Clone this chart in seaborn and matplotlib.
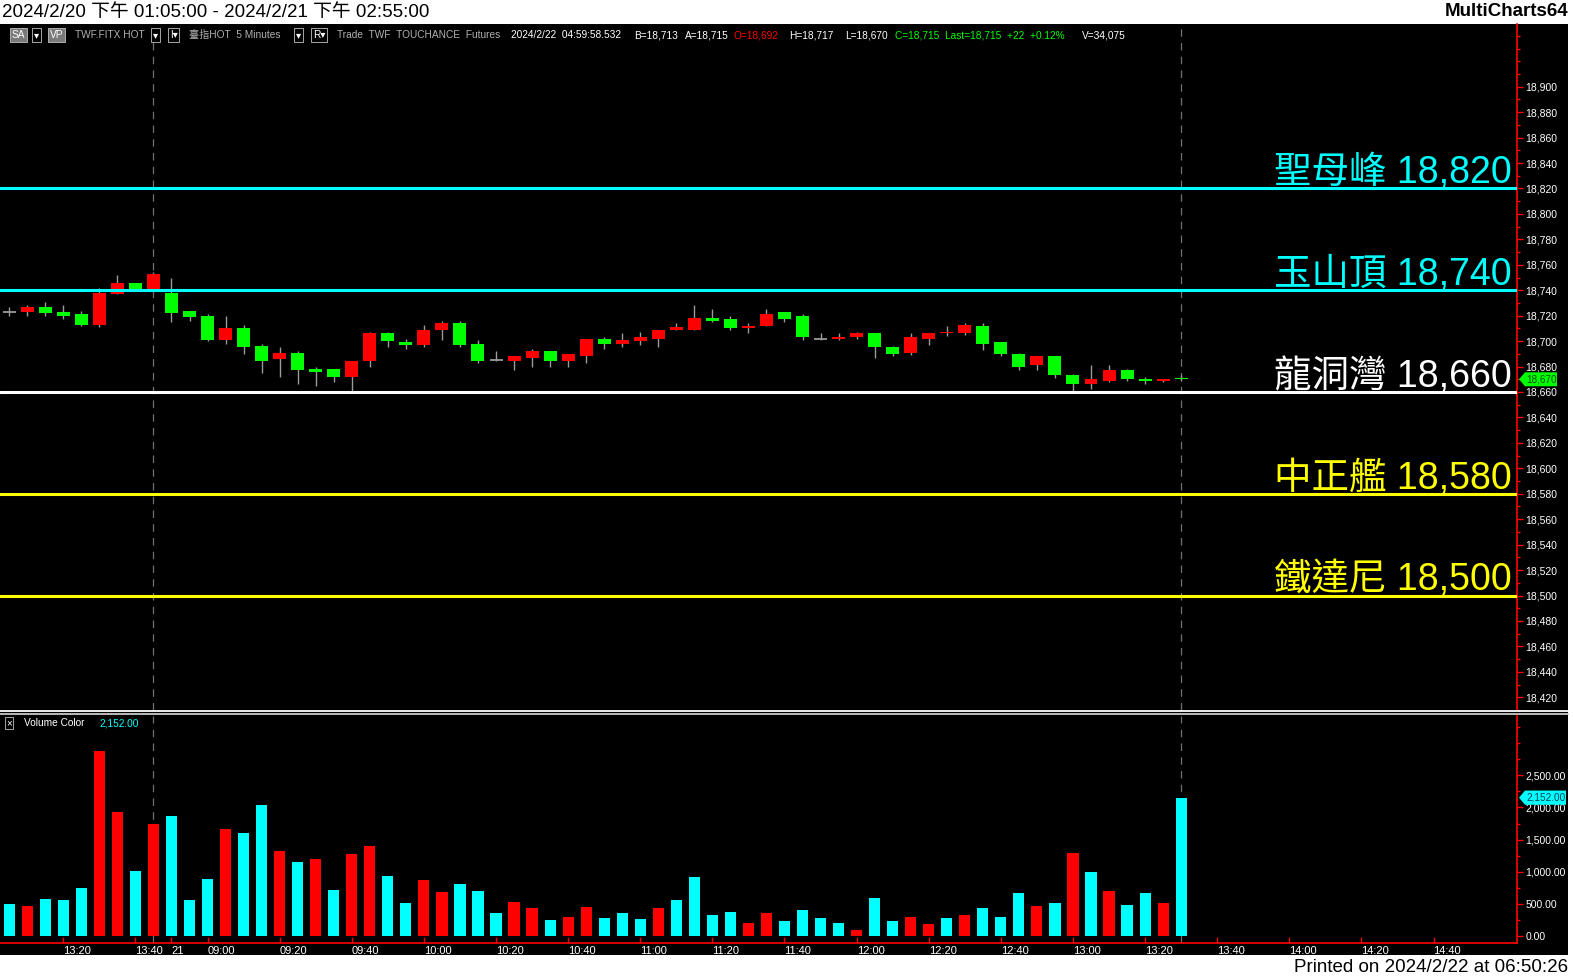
import matplotlib
matplotlib.use("Agg")
import matplotlib.pyplot as plt
from matplotlib.patches import Rectangle, Polygon
from matplotlib.lines import Line2D
from matplotlib.transforms import blended_transform_factory
import numpy as np
import pandas as pd
import seaborn as sns

# ── Data (5-minute bars, TX futures, 2024/2/20 13:05 → 2024/2/21 13:30) ──────
OPEN = [18723, 18723, 18727, 18723, 18721, 18713, 18737, 18746, 18741, 18738,
        18724, 18720, 18701, 18710, 18696, 18686, 18691, 18678, 18678, 18672,
        18684, 18706, 18699, 18697, 18709, 18714, 18698, 18685, 18684, 18687,
        18692, 18684, 18688, 18702, 18698, 18700, 18702, 18709, 18709, 18718,
        18717, 18710, 18712, 18723, 18720, 18702, 18702, 18703, 18706, 18695,
        18691, 18702, 18706, 18706, 18712, 18699, 18690, 18681, 18688, 18673,
        18666, 18669, 18677, 18670, 18669, 18671]
HIGH = [18727, 18728, 18731, 18728, 18724, 18742, 18752, 18746, 18754, 18750,
        18724, 18721, 18720, 18713, 18698, 18695, 18692, 18680, 18678, 18684,
        18707, 18707, 18702, 18713, 18716, 18716, 18701, 18692, 18688, 18694,
        18692, 18690, 18702, 18703, 18706, 18707, 18709, 18714, 18728, 18725,
        18720, 18714, 18725, 18723, 18721, 18706, 18706, 18707, 18706, 18696,
        18706, 18706, 18712, 18714, 18714, 18699, 18691, 18688, 18688, 18674,
        18681, 18681, 18678, 18672, 18670, 18673]
LOW = [18720, 18720, 18720, 18717, 18712, 18711, 18737, 18740, 18740, 18715,
       18716, 18700, 18698, 18690, 18675, 18672, 18666, 18665, 18668, 18661,
       18680, 18695, 18694, 18695, 18701, 18695, 18683, 18684, 18677, 18680,
       18680, 18680, 18683, 18694, 18695, 18697, 18695, 18709, 18709, 18715,
       18709, 18706, 18712, 18715, 18701, 18701, 18701, 18702, 18687, 18688,
       18689, 18697, 18704, 18705, 18693, 18688, 18677, 18677, 18671, 18660,
       18662, 18668, 18669, 18666, 18668, 18669]
CLOSE = [18723, 18727, 18722, 18720, 18713, 18738, 18746, 18740, 18753, 18722,
         18719, 18701, 18710, 18695, 18684, 18691, 18677, 18676, 18672, 18684,
         18706, 18700, 18697, 18709, 18714, 18697, 18684, 18685, 18688, 18692,
         18684, 18690, 18702, 18698, 18701, 18703, 18709, 18711, 18718, 18716,
         18710, 18712, 18721, 18717, 18703, 18702, 18703, 18706, 18695, 18690,
         18703, 18706, 18707, 18713, 18698, 18690, 18680, 18688, 18673, 18666,
         18670, 18677, 18670, 18669, 18670, 18670]
VOLUME = [500, 466, 575, 560, 746, 2875, 1927, 1010, 1740, 1865,
          560, 886, 1663, 1600, 2036, 1321, 1150, 1197, 715, 1274,
          1399, 932, 513, 870, 684, 808, 699, 357, 528, 435,
          249, 295, 451, 280, 357, 264, 435, 560, 917, 326,
          373, 202, 357, 233, 404, 280, 202, 93, 590, 233,
          295, 186, 280, 326, 435, 295, 668, 466, 513, 1290,
          995, 699, 482, 668, 513, 2152]
VOL_DIR = ["dn", "up", "dn", "dn", "dn", "up", "up", "dn", "up", "dn",
           "dn", "dn", "up", "dn", "dn", "up", "dn", "up", "dn", "up",
           "up", "dn", "dn", "up", "up", "dn", "dn", "dn", "up", "up",
           "dn", "up", "up", "dn", "dn", "dn", "up", "dn", "dn", "dn",
           "dn", "up", "up", "dn", "dn", "dn", "dn", "up", "dn", "dn",
           "up", "up", "dn", "up", "dn", "dn", "dn", "up", "dn", "up",
           "dn", "up", "dn", "dn", "up", "dn"]

TICK_POS = [3, 7, 9, 11, 15, 19, 23, 27, 31, 35, 39, 43, 47, 51, 55, 59, 63,
            67, 71, 75, 79]
TICK_LABELS = ["13:20", "13:40", "21", "09:00", "09:20", "09:40", "10:00",
               "10:20", "10:40", "11:00", "11:20", "11:40", "12:00", "12:20",
               "12:40", "13:00", "13:20", "13:40", "14:00", "14:20", "14:40"]

LEVEL_PRICES = [18820, 18740, 18660, 18580, 18500]
LEVEL_NAMES = ["聖母峰", "玉山頂", "龍洞灣", "中正艦", "鐵達尼"]
LEVEL_COLORS = ["#00FFFF", "#00FFFF", "#FFFFFF", "#FFFF00", "#FFFF00"]

SESSION_BREAKS = [8, 65]
LAST_PRICE = 18670
LAST_VOLUME = 2152

# ── Style ─────────────────────────────────────────────────────────────────────
W, H = 1573, 980
sns.set_style("dark", {"axes.facecolor": "black"})
plt.rcParams["font.family"] = ["Liberation Sans", "Noto Sans CJK TC", "DejaVu Sans"]

RED, GREEN, CYAN = "#FF0000", "#00FF00", "#00FFFF"
WICK = "#9A9A9A"


def fx(x):
    return x / W


def fy(y):
    return 1 - y / H


fig = plt.figure(figsize=(W / 100, H / 100), dpi=100, facecolor="white")
fig.patches.append(Rectangle((0, fy(955)), fx(1568), fy(24) - fy(955),
                             transform=fig.transFigure, facecolor="black",
                             edgecolor="none", zorder=-10))

ax = fig.add_axes([0, fy(710), fx(1517), fy(24) - fy(710)])
axv = fig.add_axes([0, fy(943), fx(1517), fy(716) - fy(943)], sharex=ax)

for a in (ax, axv):
    a.set_facecolor("black")
    for s in ("top", "left"):
        a.spines[s].set_visible(False)
    a.spines["right"].set_color(RED)
    a.spines["right"].set_linewidth(1.2)
    a.yaxis.tick_right()
    a.grid(False)
ax.spines["bottom"].set_visible(False)
axv.spines["bottom"].set_color(RED)
axv.spines["bottom"].set_linewidth(1.2)

# ── Candles ───────────────────────────────────────────────────────────────────
idx = np.arange(len(OPEN))
o, h, l, c = map(np.array, (OPEN, HIGH, LOW, CLOSE))
ax.vlines(idx, l, h, color=WICK, lw=1.0, zorder=2)
body_col = np.where(c > o, RED, GREEN)
real = c != o
ax.bar(idx[real], np.abs(c - o)[real], bottom=np.minimum(o, c)[real],
       width=0.72, color=body_col[real], linewidth=0, zorder=3)
ax.hlines(o[~real], idx[~real] - 0.36, idx[~real] + 0.36, color=WICK, lw=1.3, zorder=3)

# key levels
blend = blended_transform_factory(ax.transAxes, ax.transData)
for lvl, name, col in zip(LEVEL_PRICES, LEVEL_NAMES, LEVEL_COLORS):
    ax.axhline(lvl, color=col, lw=2.2, zorder=4)
    ax.text(1 - 5 / 1517, lvl + 4, f"{name} {lvl:,}", transform=blend,
            ha="right", va="baseline", fontsize=27, color=col, zorder=5)

# ── Volume (seaborn) ──────────────────────────────────────────────────────────
vol_df = pd.DataFrame({"bar": idx, "volume": VOLUME, "dir": VOL_DIR})
sns.barplot(data=vol_df, x="bar", y="volume", hue="dir",
            palette={"up": RED, "dn": CYAN}, native_scale=True, dodge=False,
            width=0.62, saturation=1, errorbar=None, legend=False, ax=axv,
            linewidth=0, zorder=3)
axv.set_xlabel("")
axv.set_ylabel("")

for b in SESSION_BREAKS:
    for a in (ax, axv):
        a.axvline(b, color="#707070", lw=0.9, ls=(0, (6, 5)), zorder=0.5)

# ── Axes limits & ticks ───────────────────────────────────────────────────────
ax.set_xlim(-9.2 / 18.03, (1517 - 9.2) / 18.03)
ax.set_ylim(18410, 18949.3)
axv.set_ylim(-105, 3420)

ax.set_yticks(np.arange(18420, 18901, 20))
ax.set_yticklabels([f"{v:,}" for v in range(18420, 18901, 20)])
ax.set_yticks(np.arange(18410, 18941, 10), minor=True)
axv.set_yticks(np.arange(0, 2501, 500))
axv.set_yticklabels([f"{v:,.2f}" for v in range(0, 2501, 500)])
axv.set_yticks(np.arange(0, 3251, 250), minor=True)

for a in (ax, axv):
    a.tick_params(axis="y", which="major", right=True, left=False, length=4,
                  width=1, color=RED, labelcolor="white", labelsize=7.5, pad=2)
    a.tick_params(axis="y", which="minor", right=True, left=False, length=2.5,
                  width=1, color=RED)
ax.tick_params(axis="x", which="both", bottom=False, labelbottom=False)

axv.set_xticks(TICK_POS)
axv.set_xticklabels(TICK_LABELS)
axv.tick_params(axis="x", which="major", bottom=True, direction="in", length=4,
                width=1, color=RED, labelcolor="white", labelsize=8, pad=2.5)
for t in axv.get_xticklabels():
    t.set_horizontalalignment("left")
axv.tick_params(axis="x", which="minor", bottom=False)

# ── Last value tags on the axes ───────────────────────────────────────────────
def tag(a, value, half, width, color, text, text_color):
    tr = blended_transform_factory(a.transAxes, a.transData)
    px = 1 / 1517
    verts = [(1 + 2 * px, value), (1 + 8 * px, value + half),
             (1 + width * px, value + half), (1 + width * px, value - half),
             (1 + 8 * px, value - half)]
    a.add_patch(Polygon(verts, closed=True, transform=tr, facecolor=color,
                        edgecolor="none", clip_on=False, zorder=6))
    a.text(1 + 9 * px, value, text, transform=tr, ha="left", va="center",
           fontsize=7.2, color=text_color, clip_on=False, zorder=7)


tag(ax, LAST_PRICE, 5.5, 40, GREEN, f"{LAST_PRICE:,}", "#005000")
tag(axv, LAST_VOLUME, 110, 49, CYAN, f"{LAST_VOLUME:,.2f}", "#004050")

# ── Panel separator ───────────────────────────────────────────────────────────
for yy, col in ((711, "#FFFFFF"), (714, "#C8C8C8")):
    fig.add_artist(Line2D([0, fx(1568)], [fy(yy), fy(yy)], transform=fig.transFigure,
                          color=col, lw=1.3))

# ── Header / footer texts ─────────────────────────────────────────────────────
fig.text(fx(2), fy(12), "2024/2/20 下午 01:05:00 - 2024/2/21 下午 02:55:00",
         fontsize=13.5, va="center", ha="left", color="black")
fig.text(fx(1568), fy(12), "MultiCharts64", fontsize=13.5, fontweight="bold",
         va="center", ha="right", color="black")
fig.text(fx(1568), fy(967), "Printed on 2024/2/22 at 06:50:26", fontsize=13.5,
         va="center", ha="right", color="black")

GREY = "#B0B0B0"
status = [
    (12, "SA", "white", "#7A7A7A"), (34, "▾", "white", "black"),
    (50, "VP", "white", "#7A7A7A"), (75, "TWF.FITX HOT", GREY, None),
    (153, "▾", "white", "black"), (170, "I▾", "white", "black"),
    (189, "臺指HOT  5 Minutes", GREY, None), (296, "▾", "white", "black"),
    (313, "R▾", "white", "black"),
    (337, "Trade  TWF  TOUCHANCE  Futures", GREY, None),
    (511, "2024/2/22  04:59:58.532", "white", None),
    (634, "B=18,713", "white", None), (685, "A=18,715", "white", None),
    (733, "O=18,692", RED, None), (789, "H=18,717", "white", None),
    (845, "L=18,670", "white", None),
    (895, "C=18,715  Last=18,715  +22  +0.12%", GREEN, None),
    (1082, "V=34,075", "white", None),
]
for x, s, col, bg in status:
    kw = {}
    if bg is not None:
        kw["bbox"] = dict(boxstyle="square,pad=0.15", facecolor=bg,
                          edgecolor="#C0C0C0", linewidth=0.6)
    fig.text(fx(x), fy(35), s, fontsize=7.3, color=col, va="center", ha="left", **kw)

fig.text(fx(6), fy(723), "×", fontsize=7, color="white", va="center", ha="left",
         bbox=dict(boxstyle="square,pad=0.1", facecolor="black",
                   edgecolor="#C0C0C0", linewidth=0.6))
fig.text(fx(24), fy(723), "Volume Color", fontsize=7.3, color="white", va="center")
fig.text(fx(99), fy(723), f"{LAST_VOLUME:,.2f}", fontsize=7.3, color=CYAN, va="center")

fig.savefig("out.png", dpi=100, facecolor="white")
